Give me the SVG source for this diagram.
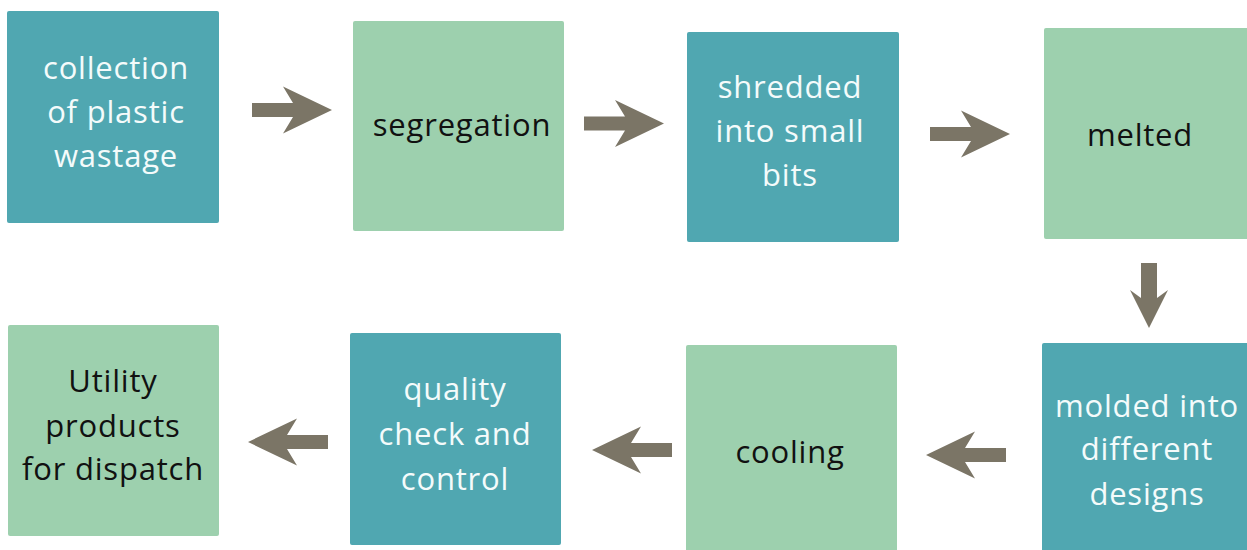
<svg xmlns="http://www.w3.org/2000/svg" width="1247" height="550" viewBox="0 0 1247 550">
<style>
.teal{fill:#50a7b1}
.green{fill:#9dd0ae}
.arrow{fill:#7b7566}
text{font-family:"Open Sans","DejaVu Sans",sans-serif;font-size:31px;text-anchor:middle;letter-spacing:0.8px}
.lt{fill:#f4fbfb}
.dk{fill:#111111}
</style>
<defs>
<path id="arr" d="M0,-7 H41 L31,-23.5 L80,0 L31,23.5 L41,7 H0 Z"/>
</defs>
<rect width="1247" height="550" fill="#ffffff"/>
<g id="connectors" class="arrow">
<use href="#arr" transform="translate(252,110)"/>
<use href="#arr" transform="translate(584,123.5)"/>
<use href="#arr" transform="translate(930,134)"/>
<path d="M1141,263 V298 L1130,290 L1149,328 L1168,290 L1157,298 V263 Z"/>
<use href="#arr" transform="translate(1006,455) rotate(180)"/>
<use href="#arr" transform="translate(672,450) rotate(180)"/>
<use href="#arr" transform="translate(328,442) rotate(180)"/>
</g>
<g id="n1"><rect class="teal" x="7" y="11" width="212" height="212" rx="2"/>
<text class="lt" x="116" y="79">collection</text><text class="lt" x="116" y="123">of plastic</text><text class="lt" x="116" y="167">wastage</text></g>
<g id="n2"><rect class="green" x="353" y="21" width="211" height="210" rx="2"/>
<text class="dk" x="462" y="136">segregation</text></g>
<g id="n3"><rect class="teal" x="687" y="32" width="212" height="210" rx="2"/>
<text class="lt" x="790" y="98">shredded</text><text class="lt" x="790" y="142">into small</text><text class="lt" x="790" y="186">bits</text></g>
<g id="n4"><rect class="green" x="1044" y="28" width="205" height="211" rx="2"/>
<text class="dk" x="1140" y="146">melted</text></g>
<g id="n5"><rect class="teal" x="1042" y="343" width="207" height="210" rx="2"/>
<text class="lt" x="1147" y="417">molded into</text><text class="lt" x="1147" y="460">different</text><text class="lt" x="1147" y="505">designs</text></g>
<g id="n6"><rect class="green" x="686" y="345" width="211" height="208" rx="2"/>
<text class="dk" x="790" y="463">cooling</text></g>
<g id="n7"><rect class="teal" x="350" y="333" width="211" height="212" rx="2"/>
<text class="lt" x="455" y="400">quality</text><text class="lt" x="455" y="445">check and</text><text class="lt" x="455" y="490">control</text></g>
<g id="n8"><rect class="green" x="8" y="325" width="211" height="211" rx="2"/>
<text class="dk" x="113" y="392">Utility</text><text class="dk" x="113" y="437">products</text><text class="dk" x="113" y="480">for dispatch</text></g>
</svg>
